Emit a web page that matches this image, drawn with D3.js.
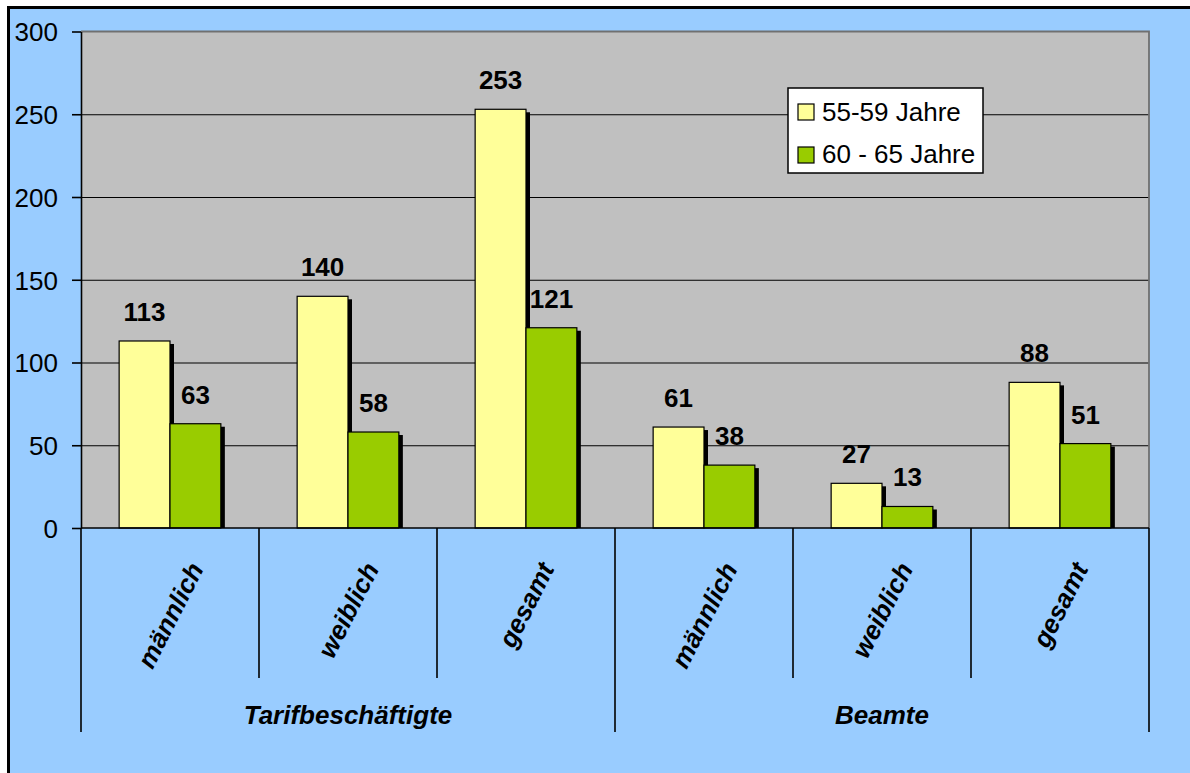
<!DOCTYPE html>
<html>
<head>
<meta charset="utf-8">
<script src="https://cdn.jsdelivr.net/npm/d3@7"></script>
<style>
  html, body { margin: 0; padding: 0; background: #fff; overflow: hidden; }
  svg { display: block; }
  text { font-family: "Liberation Sans", Arial, sans-serif; fill: #000; }
</style>
</head>
<body>
<div id="chart"></div>
<script>
// --> DATA
var categories = ["männlich", "weiblich", "gesamt", "männlich", "weiblich", "gesamt"];
var groups = ["Tarifbeschäftigte", "Beamte"];
var groupSize = [3, 3];
var seriesNames = ["55-59 Jahre", "60 - 65 Jahre"];
var values5559 = [113, 140, 253, 61, 27, 88];
var values6065 = [63, 58, 121, 38, 13, 51];
var yTicks = [0, 50, 100, 150, 200, 250, 300];

var colors = ["#FFFF99", "#99CC00"];

// --> SVG AREA
var width = 1190,
    height = 773;

var svg = d3.select("#chart").append("svg")
    .attr("width", width)
    .attr("height", height);

// chart background, black frame only on top and left (rest is cut off)
svg.append("rect")
    .attr("x", 8.5).attr("y", 7.5)
    .attr("width", width).attr("height", height)
    .attr("fill", "#99CCFF");
svg.append("path")
    .attr("d", "M8.5," + height + "V7.5H" + width)
    .attr("fill", "none")
    .attr("stroke", "#000")
    .attr("stroke-width", 3);

var plot = { left: 81, right: 1149, top: 31.5, bottom: 528 };

var y = d3.scaleLinear()
    .domain([0, 300])
    .range([plot.bottom, plot.top]);

var x0 = d3.scaleBand()
    .domain(d3.range(categories.length))
    .range([plot.left, plot.right])
    .paddingInner(0).paddingOuter(0);

var x1 = d3.scaleBand()
    .domain([0, 1])
    .range([0, x0.bandwidth()])
    .paddingInner(0)
    .paddingOuter(0.75);

// plot area
svg.append("rect")
    .attr("x", plot.left).attr("y", plot.top)
    .attr("width", plot.right - plot.left)
    .attr("height", plot.bottom - plot.top)
    .attr("fill", "#C0C0C0");

// gridlines
svg.append("g")
    .attr("transform", "translate(" + plot.left + ",0)")
    .call(d3.axisLeft(y).tickValues([50, 100, 150, 200, 250]).tickSize(-(plot.right - plot.left)).tickFormat(""))
    .call(function(g) { g.select(".domain").remove(); })
    .selectAll("line").attr("stroke", "#000").attr("stroke-width", 1.2);

// plot border top/right (grey)
svg.append("path")
    .attr("d", "M" + plot.left + "," + plot.top + "H" + plot.right + "V" + plot.bottom)
    .attr("fill", "none")
    .attr("stroke", "#707070")
    .attr("stroke-width", 1.8);

// bars: build flat list
var bars = [];
categories.forEach(function(c, i) {
    bars.push({ cat: i, s: 0, value: values5559[i] });
    bars.push({ cat: i, s: 1, value: values6065[i] });
});

// shadows
svg.append("g").selectAll("rect")
    .data(bars)
    .enter().append("rect")
    .attr("x", function(d) { return x0(d.cat) + x1(d.s) + 4; })
    .attr("y", function(d) { return y(d.value) + 3; })
    .attr("width", x1.bandwidth())
    .attr("height", function(d) { return plot.bottom - y(d.value) - 3; })
    .attr("fill", "#000");

svg.append("g").selectAll("rect")
    .data(bars)
    .enter().append("rect")
    .attr("x", function(d) { return x0(d.cat) + x1(d.s); })
    .attr("y", function(d) { return y(d.value); })
    .attr("width", x1.bandwidth())
    .attr("height", function(d) { return plot.bottom - y(d.value); })
    .attr("fill", function(d) { return colors[d.s]; })
    .attr("stroke", "#000")
    .attr("stroke-width", 1.2);

// value labels
svg.append("g").selectAll("text")
    .data(bars)
    .enter().append("text")
    .attr("x", function(d) { return x0(d.cat) + x1(d.s) + x1.bandwidth() / 2; })
    .attr("y", function(d) { return y(d.value) - 20; })
    .attr("text-anchor", "middle")
    .style("font-size", "26px")
    .style("font-weight", "bold")
    .text(function(d) { return d.value; });

// y axis
var yAxis = svg.append("g")
    .attr("transform", "translate(" + plot.left + ",0)")
    .call(d3.axisLeft(y).tickValues(yTicks).tickSize(9).tickPadding(14).tickSizeOuter(0));
yAxis.select(".domain").attr("stroke", "#000").attr("stroke-width", 1.6);
yAxis.selectAll("line").attr("stroke", "#000").attr("stroke-width", 1.6);
yAxis.selectAll("text")
    .style("font-size", "26px")
    .style("font-family", "Liberation Sans, Arial, sans-serif")
    .attr("dy", "0.36em");

// x axis line
svg.append("line")
    .attr("x1", plot.left).attr("x2", plot.right)
    .attr("y1", plot.bottom).attr("y2", plot.bottom)
    .attr("stroke", "#000").attr("stroke-width", 1.6);

// category dividers
var groupEdges = [0];
groupSize.forEach(function(n) { groupEdges.push(groupEdges[groupEdges.length - 1] + n); });
d3.range(categories.length + 1).forEach(function(i) {
    var xx = i < categories.length ? x0(i) : plot.right;
    var isGroup = groupEdges.indexOf(i) >= 0;
    svg.append("line")
        .attr("x1", xx).attr("x2", xx)
        .attr("y1", plot.bottom).attr("y2", isGroup ? 732 : 678)
        .attr("stroke", "#000").attr("stroke-width", 1.6);
});

// rotated category labels
var angle = 63, rad = angle * Math.PI / 180, asc = 18.7, labelTop = 560;
svg.append("g").selectAll("text")
    .data(categories)
    .enter().append("text")
    .style("font-size", "26px")
    .style("font-weight", "bold")
    .style("font-style", "italic")
    .attr("text-anchor", "end")
    .text(function(d) { return d; })
    .attr("transform", function(d, i) {
        var L = this.getComputedTextLength();
        var cx = x0(i) + x0.bandwidth() / 2;
        var ex = cx + (L * Math.cos(rad) + asc * Math.sin(rad)) / 2;
        var ey = labelTop + asc * Math.cos(rad);
        return "translate(" + ex + "," + ey + ") rotate(" + (-angle) + ")";
    });

// group labels
groups.forEach(function(g, k) {
    var a = x0(groupEdges[k]);
    var b = groupEdges[k + 1] < categories.length ? x0(groupEdges[k + 1]) : plot.right;
    svg.append("text")
        .attr("x", (a + b) / 2)
        .attr("y", 724)
        .attr("text-anchor", "middle")
        .style("font-size", "26px")
        .style("font-weight", "bold")
        .style("font-style", "italic")
        .text(g);
});

// legend
var legend = svg.append("g").attr("transform", "translate(788,88)");
legend.append("rect")
    .attr("width", 195).attr("height", 85)
    .attr("fill", "#fff")
    .attr("stroke", "#000").attr("stroke-width", 1.5);
seriesNames.forEach(function(name, k) {
    legend.append("rect")
        .attr("x", 10).attr("y", 16 + k * 43)
        .attr("width", 16).attr("height", 16)
        .attr("fill", colors[k])
        .attr("stroke", "#000").attr("stroke-width", 1.2);
    legend.append("text")
        .attr("x", 34).attr("y", 33 + k * 42)
        .style("font-size", "26px")
        .text(name);
});
</script>
</body>
</html>
